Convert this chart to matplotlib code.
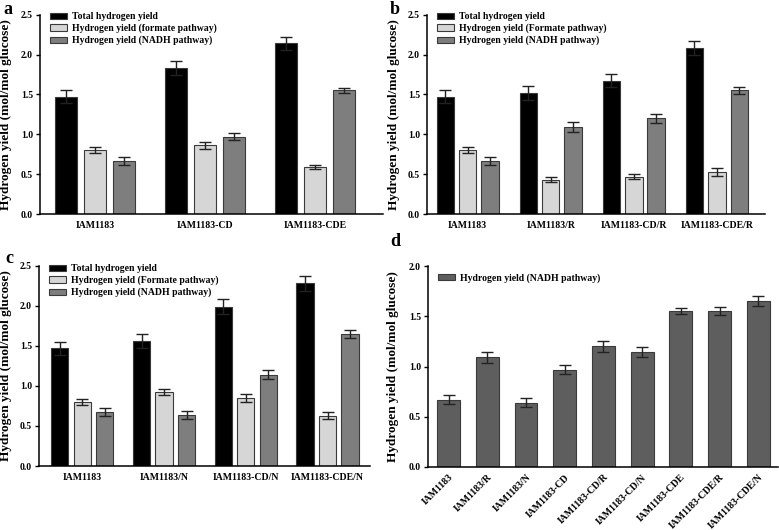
import matplotlib
matplotlib.use("Agg")
import matplotlib.pyplot as plt
import numpy as np

plt.rcParams['font.family'] = ['Liberation Serif', 'DejaVu Serif']
plt.rcParams['font.weight'] = 'bold'

W, H = 779, 530

# ---------------- data ----------------
cats_a = ["IAM1183", "IAM1183-CD", "IAM1183-CDE"]
total_a = [1.47, 1.83, 2.14]
total_a_err = [0.08, 0.09, 0.08]
formate_a = [0.80, 0.86, 0.59]
formate_a_err = [0.04, 0.04, 0.03]
nadh_a = [0.67, 0.97, 1.55]
nadh_a_err = [0.05, 0.045, 0.03]

cats_b = ["IAM1183", "IAM1183/R", "IAM1183-CD/R", "IAM1183-CDE/R"]
total_b = [1.47, 1.52, 1.67, 2.08]
total_b_err = [0.08, 0.09, 0.08, 0.09]
formate_b = [0.80, 0.43, 0.47, 0.53]
formate_b_err = [0.04, 0.03, 0.03, 0.05]
nadh_b = [0.67, 1.09, 1.20, 1.55]
nadh_b_err = [0.05, 0.06, 0.055, 0.04]

cats_c = ["IAM1183", "IAM1183/N", "IAM1183-CD/N", "IAM1183-CDE/N"]
total_c = [1.47, 1.56, 1.99, 2.28]
total_c_err = [0.08, 0.09, 0.09, 0.09]
formate_c = [0.80, 0.92, 0.85, 0.63]
formate_c_err = [0.035, 0.04, 0.045, 0.04]
nadh_c = [0.67, 0.64, 1.14, 1.65]
nadh_c_err = [0.05, 0.05, 0.055, 0.05]

cats_d = ["IAM1183", "IAM1183/R", "IAM1183/N", "IAM1183-CD", "IAM1183-CD/R",
          "IAM1183-CD/N", "IAM1183-CDE", "IAM1183-CDE/R", "IAM1183-CDE/N"]
nadh_d = [0.67, 1.09, 0.64, 0.97, 1.20, 1.14, 1.55, 1.55, 1.65]
nadh_d_err = [0.045, 0.055, 0.045, 0.045, 0.055, 0.05, 0.03, 0.04, 0.05]

labels = ["Total hydrogen yield", "Hydrogen yield (formate pathway)", "Hydrogen yield (NADH pathway)"]
labels_cap = ["Total hydrogen yield", "Hydrogen yield (Formate pathway)", "Hydrogen yield (NADH pathway)"]

c_total = "#000000"
c_form = "#d6d6d6"
c_nadh = "#7e7e7e"
c_d = "#5e5e5e"
edge = "#3a3a3a"

fig = plt.figure(figsize=(W / 100, H / 100), dpi=100)


def add_ax(left, right, top, bottom):
    return fig.add_axes([left / W, 1 - bottom / H, (right - left) / W, (bottom - top) / H])


def style(ax, ymax, ystep):
    ax.spines['top'].set_visible(False)
    ax.spines['right'].set_visible(False)
    ax.spines['left'].set_linewidth(1.1)
    ax.spines['bottom'].set_linewidth(1.1)
    ax.set_ylim(0, ymax)
    ax.set_yticks(np.arange(0, ymax + 0.001, ystep))
    ax.yaxis.set_major_formatter(matplotlib.ticker.FormatStrFormatter('%.1f'))
    ax.tick_params(axis='y', length=3, width=1, labelsize=7, pad=2)
    ax.tick_params(axis='x', length=0, labelsize=7, pad=5)
    for t in ax.get_yticklabels() + ax.get_xticklabels():
        t.set_fontweight('bold')


def grouped(ax, cats, series, errs, colors, legend_labels, xlim, width, off, axw_px, axh_px, lg_row1_px):
    x = np.arange(len(cats))
    for i, (vals, e, col) in enumerate(zip(series, errs, colors)):
        ax.bar(x + (i - 1) * off, vals, width, color=col, edgecolor=edge, linewidth=0.8,
               yerr=e, capsize=4, error_kw=dict(ecolor='#222222', elinewidth=1, capthick=1),
               label=legend_labels[i])
    ax.set_xlim(*xlim)
    ax.set_xticks(x)
    ax.set_xticklabels(cats)
    style(ax, 2.5, 0.5)
    ax.set_ylabel("Hydrogen yield (mol/mol glucose)", fontsize=9.5, fontweight='bold')
    leg = ax.legend(loc='upper left', bbox_to_anchor=(10 / axw_px, 1 + (5.5 - lg_row1_px) / axh_px),
                    frameon=False, handlelength=1.75, handleheight=0.6,
                    handletextpad=0.55, labelspacing=0.25, borderpad=0, borderaxespad=0,
                    prop=dict(weight='bold', size=7))
    for p in leg.get_patches():
        p.set_edgecolor(edge)
    return ax


# panel a
axa = add_ax(40, 383, 14.7, 214)
grouped(axa, cats_a, [total_a, formate_a, nadh_a], [total_a_err, formate_a_err, nadh_a_err],
        [c_total, c_form, c_nadh], labels, (-0.5, 2.62), 0.2, 0.265, 343, 199.3, 3.0)
axa.yaxis.set_label_coords((12 - 40) / 343, 0.5)

# panel b
axb = add_ax(427, 765, 14.7, 214)
grouped(axb, cats_b, [total_b, formate_b, nadh_b], [total_b_err, formate_b_err, nadh_b_err],
        [c_total, c_form, c_nadh], labels_cap, (-0.49, 3.58), 0.21, 0.27, 338, 199.3, 3.0)
axb.yaxis.set_label_coords((400 - 427) / 338, 0.5)

# panel c
axc = add_ax(39, 370, 265.7, 466)
grouped(axc, cats_c, [total_c, formate_c, nadh_c], [total_c_err, formate_c_err, nadh_c_err],
        [c_total, c_form, c_nadh], labels_cap, (-0.53, 3.52), 0.21, 0.275, 331, 200.3, 4.0)
axc.yaxis.set_label_coords((12 - 39) / 331, 0.5)

# panel d
axd = add_ax(428, 778, 266, 467)
xd = np.arange(len(cats_d))
axd.bar(xd, nadh_d, 0.59, color=c_d, edgecolor=edge, linewidth=0.8, yerr=nadh_d_err, capsize=4,
        error_kw=dict(ecolor='#222222', elinewidth=1, capthick=1), label="Hydrogen yield (NADH pathway)")
axd.set_xlim(-0.53, 8.51)
axd.set_xticks(xd)
axd.set_xticklabels(cats_d, rotation=45, ha='right', rotation_mode='anchor')
style(axd, 2.0, 0.5)
axd.tick_params(axis='x', pad=4)
axd.set_ylabel("Hydrogen yield (mol/mol glucose)", fontsize=9.5, fontweight='bold')
axd.yaxis.set_label_coords((399 - 428) / 350, 0.5)
legd = axd.legend(loc='upper left', bbox_to_anchor=(10 / 350, 1 + (5.5 - 12.5) / 201),
                  frameon=False, handlelength=1.75, handleheight=0.6, handletextpad=0.55,
                  borderpad=0, borderaxespad=0, prop=dict(weight='bold', size=7))
for p in legd.get_patches():
    p.set_edgecolor(edge)

# panel letters
for letter, (px, py) in zip("abcd", [(3, 1), (390, 1), (5, 250), (390, 233)]):
    fig.text(px / W, 1 - py / H, letter, fontsize=13, fontweight='bold', va='top', ha='left')

fig.savefig("out.png", dpi=100)
